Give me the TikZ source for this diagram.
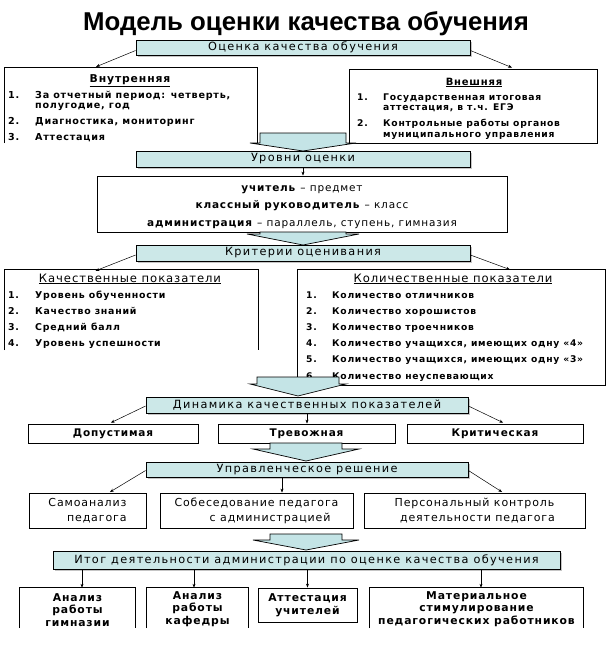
\documentclass[tikz,border=0pt]{standalone}
\usepackage{fontspec}
\setmainfont{DejaVu Sans}
\newfontfamily\vf[LetterSpace=8]{DejaVu Sans}
\newfontfamily\hf[LetterSpace=12]{DejaVu Sans}
\newfontfamily\titlefont{Liberation Sans}
\usetikzlibrary{arrows.meta,shadows}
\definecolor{hcol}{RGB}{204,232,232}
\definecolor{acol}{RGB}{196,228,230}
\newcommand\bigarr[6]{%
  \draw[barrow] ({#1-#2},#4) -- ({#1+#2},#4) -- ({#1+#2},#5) -- ({#1+#3},#5)
    -- (#1,#6) -- ({#1-#3},#5) -- ({#1-#2},#5) -- cycle;}
\newcommand\openbox[1]{%
  \draw[line width=0.8pt] (#1.south west) -- (#1.north west) -- (#1.north east) -- (#1.south east);}
\begin{document}
\begin{tikzpicture}[x=1pt,y=-1pt,
  hbox/.style={draw, fill=hcol, line width=0.8pt, inner sep=0pt,
    drop shadow={shadow xshift=1.5pt, shadow yshift=-1.5pt, fill=black!45},
    font=\hf\fontsize{11.3}{12}\selectfont},
  wbox/.style={draw, fill=white, line width=0.8pt, inner sep=0pt},
  obox/.style={fill=white, inner sep=0pt},
  sarr/.style={-{Stealth[length=4pt,width=3pt]}, line width=0.5pt},
  barrow/.style={draw, fill=acol, line width=0.7pt, line join=miter},
  lst/.style={anchor=base west, inner sep=0pt},
  ttl/.style={anchor=base, inner sep=0pt},
  rowtxt/.style={font=\vf\bfseries\fontsize{10.5}{12}\selectfont},
  sectxt/.style={font=\vf\fontsize{11}{15}\selectfont},
  bottxt/.style={font=\vf\bfseries\fontsize{10.8}{12.7}\selectfont, align=center}
]
\useasboundingbox (0,0) rectangle (611,656);

% title
\node[font=\titlefont\bfseries\fontsize{25.8}{30}\selectfont, inner sep=0pt] (title) at (306,24) {Модель оценки качества обучения};

% level 1
\node[hbox, minimum width=334, minimum height=15] (h1) at (303,47.5) {Оценка качества обучения};

\node[obox, minimum width=252, minimum height=75] (intern) at (131,105.5) {};
\openbox{intern}
\node[ttl, font=\vf\bfseries\fontsize{10.8}{12}\selectfont] (internH) at (130,82) {\underline{Внутренняя}};
\node[lst, font=\vf\bfseries\fontsize{9.6}{10.3}\selectfont] (internL) at (8,98) {%
\begin{tabular}[t]{@{}p{27pt}@{}l@{}}
1.& За отчетный период: четверть,\\
  & полугодие, год\\[5.7pt]
2.& Диагностика, мониторинг\\[5.7pt]
3.& Аттестация
\end{tabular}};

\node[wbox, minimum width=248, minimum height=74] (extern) at (473,106) {};
\node[ttl, font=\vf\bfseries\fontsize{10}{11}\selectfont] (externH) at (474,85) {\underline{Внешняя}};
\node[lst, font=\vf\bfseries\fontsize{9.2}{10.5}\selectfont] (externL) at (357,100) {%
\begin{tabular}[t]{@{}p{26pt}@{}l@{}}
1.& Государственная итоговая\\
  & аттестация, в т.ч. ЕГЭ\\[5.5pt]
2.& Контрольные работы органов\\
  & муниципального управления
\end{tabular}};

\draw[sarr] ([yshift=-3pt]h1.west) -- ([xshift=-35pt,yshift=1pt]intern.north);
\draw[sarr] ([yshift=-3pt]h1.east) -- ([xshift=39pt,yshift=1pt]extern.north);

\bigarr{303}{43}{53}{133}{143}{151}

% level 2
\node[hbox, minimum width=334, minimum height=16] (h2) at (303,159) {Уровни оценки};
\node[wbox, minimum width=410, minimum height=56] (lev) at (302,204) {};
\node[ttl, font=\vf\fontsize{10.5}{17.5}\selectfont] (levT) at (302,191) {%
\begin{tabular}[t]{@{}c@{}}
\textbf{учитель} – предмет\\
\textbf{классный руководитель} – класс\\
\textbf{администрация} – параллель, ступень, гимназия
\end{tabular}};
\draw[sarr] (h2.south) -- (h2.south |- lev.north);

\bigarr{303}{43}{56}{232}{234}{245}

% level 3
\node[hbox, minimum width=334, minimum height=16] (h3) at (303,253) {Критерии оценивания};

\node[obox, minimum width=253, minimum height=80] (kach) at (131.5,310) {};
\openbox{kach}
\node[ttl, font=\vf\fontsize{11.6}{12}\selectfont] (kachH) at (130,282) {\underline{Качественные показатели}};
\node[lst, font=\vf\bfseries\fontsize{9.4}{16.3}\selectfont] (kachL) at (8,298) {%
\begin{tabular}[t]{@{}p{27pt}@{}l@{}}
1.& Уровень обученности\\
2.& Качество знаний\\
3.& Средний балл\\
4.& Уровень успешности
\end{tabular}};

\node[wbox, minimum width=308, minimum height=116] (kol) at (451,327) {};
\node[ttl, font=\vf\fontsize{11.6}{12}\selectfont] (kolH) at (453,282) {\underline{Количественные показатели}};
\node[lst, font=\vf\bfseries\fontsize{9.2}{16.2}\selectfont] (kolL) at (306,298) {%
\begin{tabular}[t]{@{}p{26pt}@{}l@{}}
1.& Количество отличников\\
2.& Количество хорошистов\\
3.& Количество троечников\\
4.& Количество учащихся, имеющих одну «4»\\
5.& Количество учащихся, имеющих одну «3»\\
6.& Количество неуспевающих
\end{tabular}};

\draw[sarr] ([yshift=-2pt]h3.west) -- ([xshift=-36pt,yshift=-1pt]kach.north);
\draw[sarr] ([yshift=-2pt]h3.east) -- ([xshift=59pt,yshift=-1pt]kol.north);

\bigarr{298}{41}{48}{377}{384}{396}

% level 4
\node[hbox, minimum width=322, minimum height=16] (h4) at (307,405) {Динамика качественных показателей};
\node[wbox, rowtxt, minimum width=170, minimum height=19] (r1) at (113,433.5) {Допустимая};
\node[wbox, rowtxt, minimum width=177, minimum height=19] (r2) at (306.5,433.5) {Тревожная};
\node[wbox, rowtxt, minimum width=176, minimum height=19] (r3) at (495,433.5) {Критическая};
\draw[sarr, shorten >=2pt] ([yshift=-1pt]h4.west) -- ([xshift=-4pt]r1.north);
\draw[sarr] (h4.south) -- (h4.south |- r2.north);
\draw[sarr, shorten >=2pt] ([yshift=-1pt]h4.east) -- ([xshift=10pt]r3.north);

\bigarr{306}{36}{53}{443}{449}{461}

% level 5
\node[hbox, minimum width=322, minimum height=15] (h5) at (307,469.5) {Управленческое решение};
\node[wbox, sectxt, align=right, minimum width=117, minimum height=35] (s1) at (87.5,510.5) {Самоанализ\\педагога};
\node[wbox, sectxt, align=right, minimum width=193, minimum height=35] (s2) at (256.5,510.5) {Собеседование педагога\\с администрацией\hspace*{8pt}};
\node[wbox, sectxt, align=center, minimum width=221, minimum height=35] (s3) at (474.5,510.5) {Персональный контроль\\\hspace*{6pt}деятельности педагога};
\draw[sarr, shorten >=1pt] ([yshift=-1pt]h5.west) -- ([xshift=21.5pt]s1.north);
\draw[sarr] ([xshift=25.5pt]s2.north |- h5.south) -- ([xshift=25.5pt]s2.north);
\draw[sarr, shorten >=1pt] ([yshift=-1pt]h5.east) -- ([xshift=28.5pt]s3.north);

\bigarr{306}{36}{53}{534}{540}{550}

% level 6
\node[hbox, minimum width=507, minimum height=18] (h6) at (306.5,560) {Итог деятельности администрации по оценке качества обучения};
\node[obox, minimum width=115, minimum height=40] (b1) at (77.5,608) {};
\openbox{b1}
\node[bottxt] (b1T) at (77.5,610) {Анализ\\работы\\гимназии};
\node[obox, minimum width=101, minimum height=40] (b2) at (197.5,608) {};
\openbox{b2}
\node[bottxt] (b2T) at (197.5,609) {Анализ\\работы\\кафедры};
\node[wbox, minimum width=99, minimum height=34] (b3) at (307.5,605) {};
\node[bottxt] (b3T) at (b3) {Аттестация\\учителей};
\node[obox, minimum width=213, minimum height=40] (b4) at (476.5,608) {};
\openbox{b4}
\node[bottxt] (b4T) at (476.5,609) {Материальное\\стимулирование\\педагогических работников};
\draw[sarr] ([xshift=4.5pt]b1.north |- h6.south) -- ([xshift=4.5pt]b1.north);
\draw[sarr] ([xshift=-3.5pt]b2.north |- h6.south) -- ([xshift=-3.5pt]b2.north);
\draw[sarr] (b3.north |- h6.south) -- (b3.north);
\draw[sarr] ([xshift=4.5pt]b4.north |- h6.south) -- ([xshift=4.5pt]b4.north);
\end{tikzpicture}
\end{document}
